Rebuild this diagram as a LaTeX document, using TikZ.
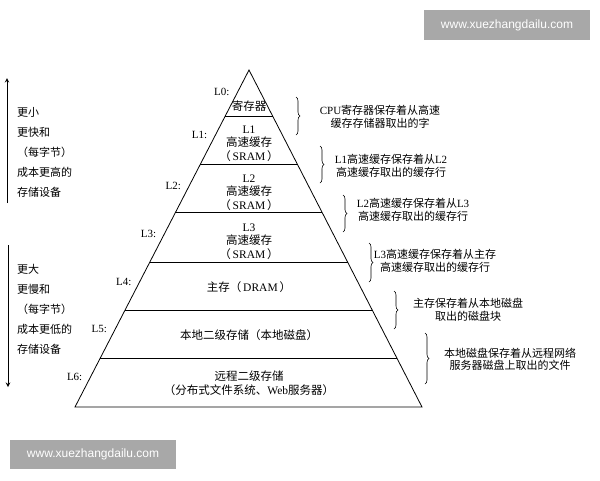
\documentclass[tikz,border=0pt]{standalone}
\usepackage{fontspec}
\setmainfont{Liberation Serif}
\newfontfamily\cjk{Noto Sans CJK SC}
\newfontfamily\wmfont{Liberation Sans}
\usetikzlibrary{
	calc,
	decorations.pathreplacing
}
\newcommand{\zh}[1]{{\cjk #1}}
\definecolor{wmgray}{RGB}{168,168,168}
\tikzset{
	layertext/.style={align=center,inner sep=0pt,font=\fontsize{11.5}{13.5}\selectfont},
	desctext/.style={align=center,inner sep=0pt,font=\fontsize{11}{12.5}\selectfont},
	lvlabel/.style={anchor=east,inner sep=0pt,font=\fontsize{11}{13}\selectfont},
	sidetext/.style={align=left,anchor=west,inner sep=0pt,font=\fontsize{11}{20}\selectfont},
	cachebrace/.style={decorate,decoration={brace,amplitude=4pt},line width=0.6pt},
	watermark/.style={fill=wmgray,text=white,inner sep=0pt,minimum width=166pt,font=\wmfont\fontsize{12}{14}\selectfont}
}

\begin{document}
\begin{tikzpicture}[x=1pt,y=-1pt]
    \useasboundingbox (0,0) rectangle (600,480);
    % Definitions
    \coordinate (AP) at (249,70);
    \coordinate (BL) at (75,407);
    \coordinate (BR) at (422,407);
    \coordinate (UT) at (7,78);
    \coordinate (UB) at (7,203);
    \coordinate (DT) at (8,245);
    \coordinate (DB) at (8,387);
    % Pyramid
    \draw[line width=0.8pt] (AP) -- (BL) -- (BR) -- cycle;
    \draw[line width=0.8pt] ($(AP)!0.139!(BL)$) -- ($(AP)!0.139!(BR)$);
    \draw[line width=0.8pt] ($(AP)!0.279!(BL)$) -- ($(AP)!0.279!(BR)$);
    \draw[line width=0.8pt] ($(AP)!0.424!(BL)$) -- ($(AP)!0.424!(BR)$);
    \draw[line width=0.8pt] ($(AP)!0.570!(BL)$) -- ($(AP)!0.570!(BR)$);
    \draw[line width=0.8pt] ($(AP)!0.712!(BL)$) -- ($(AP)!0.712!(BR)$);
    \draw[line width=0.8pt] ($(AP)!0.855!(BL)$) -- ($(AP)!0.855!(BR)$);
    % Level labels
    \node(LvZe) at ($(AP)!0.065!(BL)+(-8,0)$) [lvlabel] {L0:};
    \node(LvOn) at ($(AP)!0.193!(BL)+(-8,0)$) [lvlabel] {L1:};
    \node(LvTw) at ($(AP)!0.344!(BL)+(-8,0)$) [lvlabel] {L2:};
    \node(LvTh) at ($(AP)!0.487!(BL)+(-8,0)$) [lvlabel] {L3:};
    \node(LvFo) at ($(AP)!0.629!(BL)+(-8,0)$) [lvlabel] {L4:};
    \node(LvFi) at ($(AP)!0.769!(BL)+(-8,0)$) [lvlabel] {L5:};
    \node(LvSi) at ($(AP)!0.911!(BL)+(-8,0)$) [lvlabel] {L6:};
    % Layer texts
    \node(Regs) at (249,106)   [layertext] {\zh{寄存器}};
    \node(CaOn) at (249,143.5) [layertext] {L1\\\zh{高速缓存}\\\zh{（}\,SRAM\,\zh{）}};
    \node(CaTw) at (249,192.5) [layertext] {L2\\\zh{高速缓存}\\\zh{（}\,SRAM\,\zh{）}};
    \node(CaTh) at (249,241.5) [layertext] {L3\\\zh{高速缓存}\\\zh{（}\,SRAM\,\zh{）}};
    \node(MaMe) at (249,287)   [layertext] {\zh{主存（}\,DRAM\,\zh{）}};
    \node(LoDi) at (249,335)   [layertext] {\zh{本地二级存储（本地磁盘）}};
    \node(ReSt) at (249,383)   [layertext] {\zh{远程二级存储}\\\zh{（分布式文件系统、}Web\zh{服务器）}};
    % Descriptions
    \node(DeZe) at (380,117) [desctext] {CPU\zh{寄存器保存着从高速}\\\zh{缓存存储器取出的字}};
    \node(DeOn) at (391,166) [desctext] {L1\zh{高速缓存保存着从}L2\\\zh{高速缓存取出的缓存行}};
    \node(DeTw) at (413,210) [desctext] {L2\zh{高速缓存保存着从}L3\\\zh{高速缓存取出的缓存行}};
    \node(DeTh) at (435,261) [desctext] {L3\zh{高速缓存保存着从主存}\\\zh{高速缓存取出的缓存行}};
    \node(DeFo) at (468,310) [desctext] {\zh{主存保存着从本地磁盘}\\\zh{取出的磁盘块}};
    \node(DeFi) at (510,359) [desctext] {\zh{本地磁盘保存着从远程网络}\\\zh{服务器磁盘上取出的文件}};
    % Braces
    \draw[cachebrace] (296,97)  -- (296,135);
    \draw[cachebrace] (320,146) -- (320,183);
    \draw[cachebrace] (343,195) -- (343,232);
    \draw[cachebrace] (369,243) -- (369,282);
    \draw[cachebrace] (394,291) -- (394,329);
    \draw[cachebrace] (425,333) -- (425,384);
    % Side texts
    \node(SmFa) at (17,152.5) [sidetext] {\zh{更小}\\\zh{更快和}\\\zh{（每字节）}\\\zh{成本更高的}\\\zh{存储设备}};
    \node(LaSl) at (17,309)   [sidetext] {\zh{更大}\\\zh{更慢和}\\\zh{（每字节）}\\\zh{成本更低的}\\\zh{存储设备}};
    % Arrows
    \draw[->,>=stealth,line width=1pt] (UB) -- (UT);
    \draw[->,>=stealth,line width=1pt] (DT) -- (DB);
    % Watermarks
    \node(WmTo) at (507,25)    [watermark,minimum height=30pt] {www.xuezhangdailu.com};
    \node(WmBo) at (93,454.5)  [watermark,minimum height=29pt] {www.xuezhangdailu.com};
\end{tikzpicture}
\end{document}
